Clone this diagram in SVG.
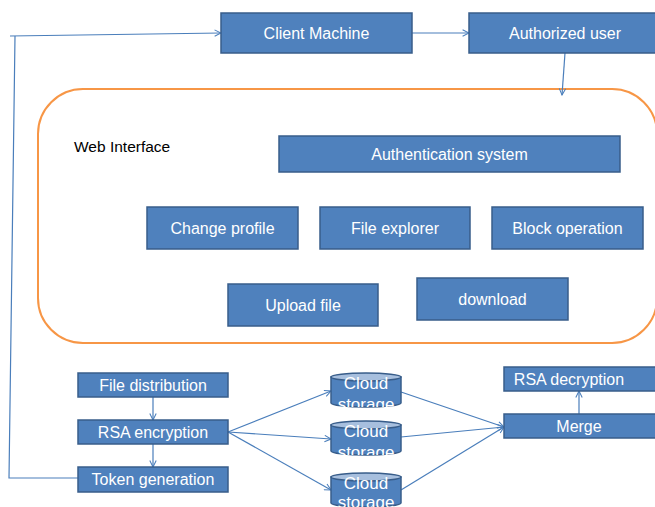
<svg xmlns="http://www.w3.org/2000/svg" width="655" height="507" viewBox="0 0 655 507">
<style>
.box{fill:#4f81bd;stroke:#385d8a;stroke-width:1.5}
.top{fill:#a7bfde;stroke:#385d8a;stroke-width:1.5}
.t{font-family:"Liberation Sans",Arial,sans-serif;font-size:16px;fill:#fff;text-anchor:middle;dominant-baseline:central}
.cl{font-size:17px}
.c{fill:none;stroke:#4a7ebb;stroke-width:1.2}
.a{marker-end:url(#arr)}
</style>
<defs>
<marker id="arr" viewBox="0 0 10 10" refX="9" refY="5" markerWidth="8" markerHeight="8" markerUnits="userSpaceOnUse" orient="auto">
<path d="M1,1 L9,5 L1,9" fill="none" stroke="#4a7ebb" stroke-width="1.3"/>
</marker>
<clipPath id="cl1"><rect x="330" y="370" width="72" height="37"/></clipPath>
<clipPath id="cl2"><rect x="330" y="418" width="72" height="37"/></clipPath>
<clipPath id="cl3"><rect x="330" y="470" width="72" height="37"/></clipPath>
</defs>
<rect x="0" y="0" width="655" height="507" fill="#fff"/>

<g id="web-interface">
<rect x="38" y="89" width="619" height="254" rx="45" ry="45" fill="none" stroke="#f79646" stroke-width="2"/>
<text x="74" y="146" font-family="Liberation Sans,Arial,sans-serif" font-size="15.5" fill="#000" dominant-baseline="central">Web Interface</text>
</g>

<g id="connectors">
<path class="c a" d="M10,36 L221,33"/>
<path class="c" d="M15,36 L9,478 L79,478"/>
<path class="c a" d="M412,33 L469,33"/>
<path class="c a" d="M565,53 L562,95"/>
<path class="c a" d="M153,397 L153,420"/>
<path class="c a" d="M153,444 L153,467"/>
<path class="c a" d="M228,432 L331,391"/>
<path class="c a" d="M228,432 L331,439"/>
<path class="c a" d="M228,432 L331,490"/>
<path class="c a" d="M401,392 L504,427"/>
<path class="c a" d="M401,437 L504,427"/>
<path class="c a" d="M401,490 L504,427"/>
<path class="c a" d="M579,414 L579,391"/>
</g>

<g id="client-machine"><rect class="box" x="221" y="13" width="191" height="40"/><text class="t" x="316.5" y="33">Client Machine</text></g>
<g id="authorized-user"><rect class="box" x="469" y="13" width="190" height="40"/><text class="t" x="565" y="33">Authorized user</text></g>
<g id="authentication-system"><rect class="box" x="279" y="136" width="341" height="36"/><text class="t" x="449.5" y="154">Authentication system</text></g>
<g id="change-profile"><rect class="box" x="147" y="207" width="151" height="42"/><text class="t" x="222.5" y="228">Change profile</text></g>
<g id="file-explorer"><rect class="box" x="320" y="207" width="150" height="42"/><text class="t" x="395" y="228">File explorer</text></g>
<g id="block-operation"><rect class="box" x="492" y="207" width="151" height="42"/><text class="t" x="567.5" y="228">Block operation</text></g>
<g id="upload-file"><rect class="box" x="228" y="284" width="150" height="42"/><text class="t" x="303" y="305">Upload file</text></g>
<g id="download"><rect class="box" x="417" y="278" width="151" height="42"/><text class="t" x="492.5" y="299">download</text></g>

<g id="file-distribution"><rect class="box" x="78" y="373" width="150" height="24"/><text class="t" x="153" y="385">File distribution</text></g>
<g id="rsa-encryption"><rect class="box" x="78" y="420" width="150" height="24"/><text class="t" x="153" y="432">RSA encryption</text></g>
<g id="token-generation"><rect class="box" x="78" y="467" width="150" height="25"/><text class="t" x="153" y="479.5">Token generation</text></g>

<g id="cloud-storage-1">
<path class="box" d="M331,377 L331,403 A35,4 0 0 0 401,403 L401,377 Z"/>
<ellipse class="top" cx="366" cy="377" rx="35" ry="4"/>
<g clip-path="url(#cl1)"><text class="t cl" x="366" y="383">Cloud</text><text class="t cl" x="366" y="404">storage</text></g>
</g>
<g id="cloud-storage-2">
<path class="box" d="M331,425 L331,451 A35,4 0 0 0 401,451 L401,425 Z"/>
<ellipse class="top" cx="366" cy="425" rx="35" ry="4"/>
<g clip-path="url(#cl2)"><text class="t cl" x="366" y="431">Cloud</text><text class="t cl" x="366" y="452">storage</text></g>
</g>
<g id="cloud-storage-3">
<path class="box" d="M331,477 L331,503 A35,4 0 0 0 401,503 L401,477 Z"/>
<ellipse class="top" cx="366" cy="477" rx="35" ry="4"/>
<g clip-path="url(#cl3)"><text class="t cl" x="366" y="483">Cloud</text><text class="t cl" x="366" y="502">storage</text></g>
</g>

<g id="merge"><rect class="box" x="504" y="414" width="152" height="24"/><text class="t" x="579" y="426">Merge</text></g>
<g id="rsa-decryption"><rect class="box" x="504" y="367" width="152" height="24"/><text class="t" x="569" y="379">RSA decryption</text></g>
</svg>
